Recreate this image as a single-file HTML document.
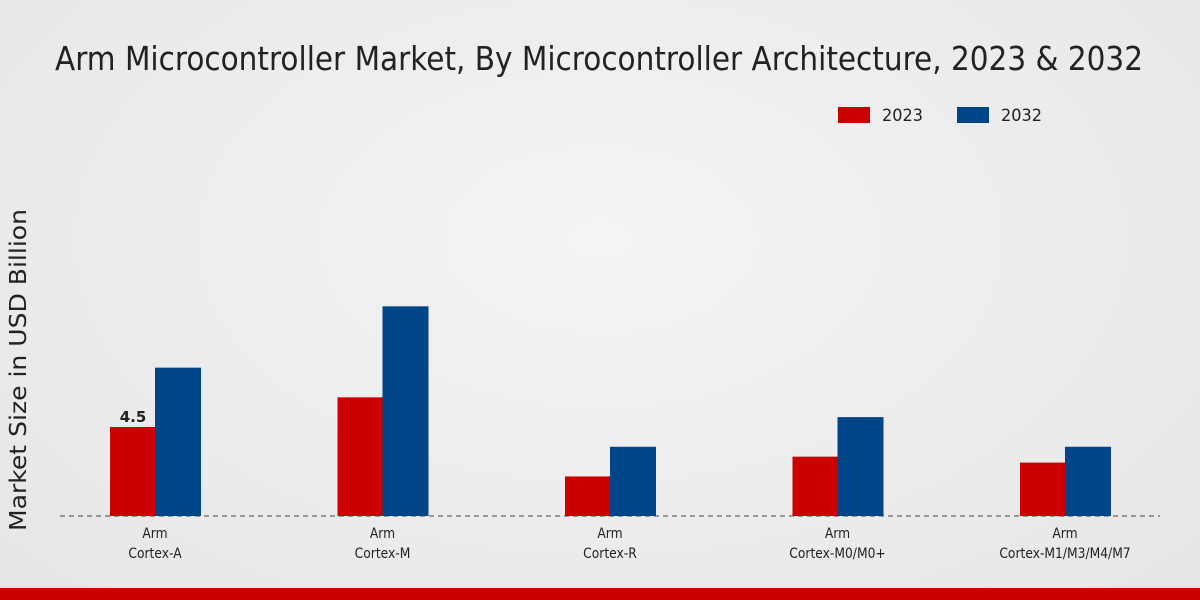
<!DOCTYPE html>
<html><head><meta charset="utf-8"><style>
html,body{margin:0;padding:0;width:1200px;height:600px;overflow:hidden}
body{background:radial-gradient(ellipse at 50% 40%,#f4f4f4 0%,#e6e6e6 100%);font-family:"DejaVu Sans","Liberation Sans",sans-serif}
</style></head><body>
<svg id="chart" width="1200" height="600" xmlns="http://www.w3.org/2000/svg">
<text x="599" y="70" font-size="33" text-anchor="middle" fill="#222" textLength="1088" lengthAdjust="spacingAndGlyphs">Arm Microcontroller Market, By Microcontroller Architecture, 2023 &amp; 2032</text>
<g>
<rect x="838" y="107" width="32" height="16" fill="#cc0000"/>
<text x="882" y="121" font-size="17" fill="#222" textLength="41" lengthAdjust="spacingAndGlyphs">2023</text>
<rect x="957" y="107" width="32" height="16" fill="#004587"/>
<text x="1001" y="121" font-size="17" fill="#222" textLength="41" lengthAdjust="spacingAndGlyphs">2032</text>
</g>
<text transform="translate(26,370) rotate(-90)" font-size="23" text-anchor="middle" fill="#222" textLength="322" lengthAdjust="spacingAndGlyphs">Market Size in USD Billion</text>
<line x1="60" y1="516" x2="1160" y2="516" stroke="#444" stroke-dasharray="5,4"/>
<g id="bars"></g>
<rect x="0" y="588" width="1200" height="12" fill="#cc0000"/>
</svg>
<script>
const categories=[["Arm","Cortex-A"],["Arm","Cortex-M"],["Arm","Cortex-R"],["Arm","Cortex-M0/M0+"],["Arm","Cortex-M1/M3/M4/M7"]];
const values2023=[4.5,6.0,2.0,3.0,2.7];
const values2032=[7.5,10.6,3.5,5.0,3.5];
const labels2023=["4.5","","","",""];
const NS="http://www.w3.org/2000/svg";
const g=document.getElementById('bars');
const base=516, scale=19.78;
const y=v=>base-v*scale;
const xc=i=>155+i*227.5;
function mk(tag,attrs){const e=document.createElementNS(NS,tag);for(const k in attrs)e.setAttribute(k,attrs[k]);g.appendChild(e);return e;}
categories.forEach((c,i)=>{
  const cx=xc(i);
  const r=mk('rect',{x:cx-45,y:y(values2023[i]),width:45,height:base-y(values2023[i]),fill:'#cc0000'});
  
  
  const b=mk('rect',{x:cx,y:y(values2032[i]),width:46,height:base-y(values2032[i]),fill:'#004587'});
  
  
  if(labels2023[i]){
    const t=mk('text',{x:cx-22,y:y(values2023[i])-5,'font-size':15,'font-weight':'bold','text-anchor':'middle',fill:'#222'});
    t.textContent=labels2023[i];
    
    
  }
  c.forEach((line,j)=>{
    const t=mk('text',{x:cx,y:538+j*20,'font-size':14,'text-anchor':'middle',fill:'#222'});
    t.textContent=line;
    t.setAttribute('transform','translate('+cx+',0) scale(0.88,1) translate('+(-cx)+',0)');
    
    
  });
});
</script>
</body></html>
